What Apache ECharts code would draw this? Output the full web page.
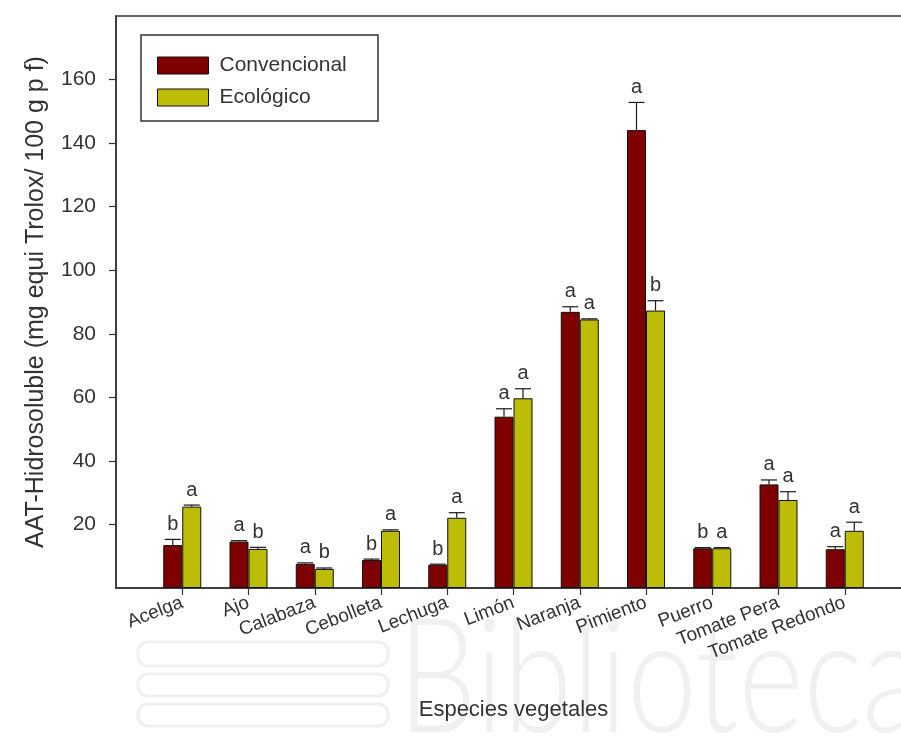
<!DOCTYPE html>
<html>
<head>
<meta charset="utf-8">
<title>AAT-Hidrosoluble por especie vegetal</title>
<script src="https://cdn.jsdelivr.net/npm/echarts@6/dist/echarts.min.js"></script>
<style>
  html, body { margin: 0; padding: 0; background: #ffffff; }
  #chart { width: 901px; height: 751px; }
</style>
</head>
<body>
<div id="chart"></div>
<script>
// Species (x categories)
const categories = ['Acelga', 'Ajo', 'Calabaza', 'Cebolleta', 'Lechuga', 'Limón',
  'Naranja', 'Pimiento', 'Puerro', 'Tomate Pera', 'Tomate Redondo'];

// Mean AAT-Hidrosoluble (mg equi Trolox / 100 g p f)
const convencional = [13.5, 14.6, 7.6, 8.8, 7.3, 53.9, 86.9, 144.1, 12.5, 32.6, 12.2];
const ecologico    = [25.6, 12.3, 6.0, 18.0, 22.1, 59.7, 84.5, 87.3, 12.5, 27.7, 18.0];

// Standard error (upper whisker only)
const convencionalErr = [1.8, 0.3, 0.3, 0.3, 0.2, 2.5, 1.6, 8.7, 0.2, 1.4, 0.8];
const ecologicoErr    = [0.5, 0.5, 0.3, 0.3, 1.6, 3.0, 0.2, 3.1, 0.2, 2.6, 2.7];

// Significance letters
const convencionalLetters = ['b', 'a', 'a', 'b', 'b', 'a', 'a', 'a', 'b', 'a', 'a'];
const ecologicoLetters    = ['a', 'b', 'b', 'a', 'a', 'a', 'a', 'b', 'a', 'a', 'a'];

// Y axis ticks
const yTicks = [20, 40, 60, 80, 100, 120, 140, 160];

const FONT = 'Liberation Sans, Arial, sans-serif';
const TEXT = '#333333';
const AXIS = '#333333';
const BAR_W = 19;
const CAP_W = 16;
const RED = '#7e0000';
const OLIVE = '#bdbd08';

// empty slots at both ends leave one band of space beside the axes
const axisCats = [''].concat(categories, ['']);

function errorRenderer(sign, letters) {
  return function (params, api) {
    const idx = api.value(0);
    const v = api.value(1);
    const e = api.value(2);
    const base = api.coord([idx, v]);
    const top = api.coord([idx, v + e]);
    const x = base[0] + sign * BAR_W / 2;
    const style = { stroke: '#1a1a1a', lineWidth: 1.2 };
    const children = [];
    if (e > 0) {
      children.push({ type: 'line', shape: { x1: x, y1: base[1], x2: x, y2: top[1] }, style: style });
      children.push({ type: 'line', shape: { x1: x - CAP_W / 2, y1: top[1], x2: x + CAP_W / 2, y2: top[1] }, style: style });
    }
    children.push({
      type: 'text',
      x: x, y: top[1] - 5,
      style: {
        text: letters[params.dataIndex], fill: TEXT,
        font: '20px ' + FONT, textAlign: 'center', textVerticalAlign: 'bottom'
      }
    });
    return { type: 'group', children: children };
  };
}

const chart = echarts.init(document.getElementById('chart'), null, { renderer: 'canvas' });

chart.setOption({
  backgroundColor: '#ffffff',
  animation: false,
  textStyle: { fontFamily: FONT, color: TEXT },
  graphic: [
    // faint library watermark
    { type: 'group', z: -10, silent: true, children: [
      { type: 'rect', shape: { x: 138, y: 642, width: 250, height: 24, r: 10 }, style: { fill: 'none', stroke: '#f0f0f0', lineWidth: 3 } },
      { type: 'rect', shape: { x: 138, y: 674, width: 250, height: 22, r: 10 }, style: { fill: 'none', stroke: '#f0f0f0', lineWidth: 3 } },
      { type: 'rect', shape: { x: 138, y: 704, width: 250, height: 22, r: 10 }, style: { fill: 'none', stroke: '#f0f0f0', lineWidth: 3 } },
      { type: 'text', x: 398, y: 600, scaleX: 0.78, originX: 0, originY: 0,
        style: { text: 'Biblioteca', font: '300 160px Lato, Roboto, sans-serif', fill: '#f0f0f0' } }
    ]},
    // legend frame
    { type: 'rect', z: 50, silent: true, shape: { x: 141, y: 35, width: 237, height: 86 },
      style: { fill: 'none', stroke: '#333333', lineWidth: 1.5 } }
  ],
  legend: {
    data: ['Convencional', 'Ecológico'],
    orient: 'vertical',
    left: 157, top: 55,
    padding: 0,
    itemWidth: 51, itemHeight: 17, itemGap: 11,
    icon: 'rect',
    itemStyle: { borderColor: '#111111', borderWidth: 1 },
    textStyle: { fontSize: 21, color: TEXT, fontFamily: FONT, padding: [0, 0, 0, 6] },
    selectedMode: false
  },
  grid: {
    left: 116, top: 16, right: -10, bottom: 163,
    show: true, borderColor: AXIS, borderWidth: 1.5,
    containLabel: false, outerBoundsMode: 'none'
  },
  xAxis: {
    type: 'category',
    data: axisCats,
    boundaryGap: false,
    name: 'Especies vegetales',
    nameLocation: 'middle',
    nameGap: 111,
    nameTextStyle: { fontSize: 22, color: TEXT, fontFamily: FONT },
    axisLine: { lineStyle: { color: AXIS, width: 1.5 } },
    axisTick: { show: true, length: 7, inside: false,
      interval: function (i, v) { return v !== ''; },
      lineStyle: { color: AXIS, width: 1.2 } },
    axisLabel: { interval: function (i, v) { return v !== ''; },
      rotate: 21, margin: 14, fontSize: 19, color: TEXT, fontFamily: FONT },
    splitLine: { show: false }
  },
  yAxis: {
    type: 'value',
    min: 0, max: 180, interval: 20,
    name: 'AAT-Hidrosoluble (mg equi Trolox/ 100 g p f)',
    nameLocation: 'middle',
    nameRotate: 90,
    nameGap: 67,
    nameTextStyle: { fontSize: 25, color: TEXT, fontFamily: FONT },
    axisLine: { show: true, lineStyle: { color: AXIS, width: 1.5 } },
    axisTick: { show: true, length: 7, inside: false, customValues: yTicks,
      lineStyle: { color: AXIS, width: 1.2 } },
    axisLabel: { customValues: yTicks, margin: 20, fontSize: 21, color: TEXT, fontFamily: FONT },
    splitLine: { show: false }
  },
  series: [
    {
      name: 'Convencional', type: 'bar',
      data: categories.map(function (c, i) { return [c, convencional[i]]; }),
      barWidth: BAR_W, barGap: '0%',
      itemStyle: { color: RED, borderColor: '#111111', borderWidth: 1 }
    },
    {
      name: 'Ecológico', type: 'bar',
      data: categories.map(function (c, i) { return [c, ecologico[i]]; }),
      barWidth: BAR_W, barGap: '0%',
      itemStyle: { color: OLIVE, borderColor: '#111111', borderWidth: 1 }
    },
    {
      name: 'errConvencional', type: 'custom', z: 5,
      renderItem: errorRenderer(-1, convencionalLetters),
      encode: { x: 0, y: 1 },
      data: categories.map(function (c, i) { return [c, convencional[i], convencionalErr[i]]; })
    },
    {
      name: 'errEcologico', type: 'custom', z: 5,
      renderItem: errorRenderer(1, ecologicoLetters),
      encode: { x: 0, y: 1 },
      data: categories.map(function (c, i) { return [c, ecologico[i], ecologicoErr[i]]; })
    }
  ]
});
</script>
</body>
</html>
